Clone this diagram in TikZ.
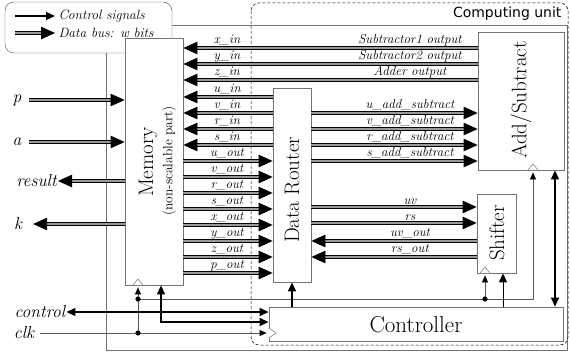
\documentclass[tikz,border=0pt]{standalone}
\usepackage{fontspec}
\newfontfamily\unitfont{DejaVu Sans}
\usetikzlibrary{arrows.meta,calc}

\tikzset{
  box/.style={draw=black!55, fill=white, line width=0.8pt, inner sep=0pt},
  bus/.style={draw=black, line width=0.8pt, double=black!40, double distance=1.6pt,
    -{Triangle[length=14pt,width=12.5pt]}},
  ctl/.style={line width=1.3pt, -{Triangle[length=9pt,width=8pt]}},
  ctlboth/.style={line width=1.3pt, {Triangle[length=9pt,width=8pt]}-{Triangle[length=9pt,width=8pt]}},
  clk/.style={line width=0.6pt, draw=black!65, -{Triangle[length=7pt,width=6pt,color=black]}},
  tick/.style={draw=black!55, fill=white, line width=0.5pt},
  lbl/.style={font=\fontsize{13}{14}\selectfont\itshape, inner sep=2pt, anchor=south},
  io/.style={font=\fontsize{17.5}{19}\selectfont\itshape, inner sep=1pt},
  title/.style={font=\fontsize{21}{24}\selectfont, rotate=90, inner sep=0pt},
}

\begin{document}
\begin{tikzpicture}[x=1pt,y=-1pt]
    \useasboundingbox (0,0) rectangle (570,353);

    % frames
    \draw[black!55, line width=0.8pt] (106,25) rectangle (567,350);
    \draw[black, dash pattern=on 3pt off 2pt, line width=0.5pt, rounded corners=8pt] (251,3) rectangle (568,345);
    \node[font=\unitfont\fontsize{14}{16}\selectfont, anchor=east] (unit) at (565,14) {Computing unit};

    % legend
    \draw[black!70, fill=white, rounded corners=9pt] (5,2) rectangle (172,53);
    \coordinate (lg1) at (15,16);
    \coordinate (lg2) at (15,33);
    \node[font=\fontsize{13.5}{15}\selectfont\itshape, anchor=west] (ctltxt) at (55,16) {Control signals};
    \node[font=\fontsize{13.5}{15}\selectfont\itshape, anchor=west] (bustxt) at (55,33) {Data bus: w bits};
    \draw[ctl] (lg1) -- (ctltxt.west);
    \draw[bus] (lg2) -- (bustxt.west);

    % blocks
    \node[box, minimum width=58pt, minimum height=247pt] (mem) at (154,161.5) {};
    \node[box, minimum width=38pt, minimum height=194pt] (router) at (292,185) {};
    \node[box, minimum width=86pt, minimum height=138pt] (addsub) at (521,101) {};
    \node[box, minimum width=39pt, minimum height=79pt] (shifter) at (496.5,233.5) {};
    \node[box, minimum width=294pt, minimum height=34pt] (ctrl) at (416,324) {};

    \node[title] (memtxt) at (148,162) {Memory};
    \node[title, font=\fontsize{13.5}{15}\selectfont] (memsub) at (169,161) {(non-scalable part)};
    \node[title] (routertxt) at (292,190) {Data Router};
    \node[title] (addsubtxt) at (521,100) {Add/Subtract};
    \node[title] (shiftertxt) at (497,233) {Shifter};
    \node[font=\fontsize{23}{26}\selectfont] (ctrltxt) at (416,325) {Controller};

    % outside signals
    \node[io] (p) at (17,100) {p};
    \node[io] (a) at (17,142) {a};
    \node[io, anchor=east] (res) at (58,181) {result};
    \node[io] (k) at (18,224) {k};
    \draw[bus, shorten <=6pt] (p) -- (p -| mem.west);
    \draw[bus, shorten <=6pt] (a) -- (a -| mem.west);
    \draw[bus] (res -| mem.west) -- (res.east);
    \draw[bus, shorten >=10pt] (k -| mem.west) -- (k);

    % results of the add/subtract unit
    \foreach \name/\src/\y in {x\_in/Subtractor1 output/48, y\_in/Subtractor2 output/64, z\_in/Adder output/80} {
        \draw[bus] (addsub.west |- 0,\y) -- (mem.east |- 0,\y);
        \node[lbl] at (227,\y) {\name};
        \node[lbl] at (410,\y) {\src};
    }
    % router to memory
    \foreach \name/\y in {u\_in/97, v\_in/113, r\_in/129, s\_in/145} {
        \draw[bus] (router.west |- 0,\y) -- (mem.east |- 0,\y);
        \node[lbl] at (227,\y) {\name};
    }
    % memory to router
    \foreach \name/\y in {u\_out/161, v\_out/177, r\_out/193, s\_out/209, x\_out/225, y\_out/241, z\_out/257, p\_out/273} {
        \draw[bus] (mem.east |- 0,\y) -- (router.west |- 0,\y);
        \node[lbl] at (227,\y) {\name};
    }
    % router to add/subtract
    \foreach \name/\y in {u/113, v/129, r/145, s/161} {
        \draw[bus] (router.east |- 0,\y) -- (addsub.west |- 0,\y);
        \node[lbl] at (410,\y) {\name\_add\_subtract};
    }
    % router and shifter
    \foreach \name/\y in {uv/207, rs/223} {
        \draw[bus] (router.east |- 0,\y) -- (shifter.west |- 0,\y);
        \node[lbl] at (410,\y) {\name};
    }
    \foreach \name/\y in {uv\_out/241, rs\_out/257} {
        \draw[bus] (shifter.west |- 0,\y) -- (router.east |- 0,\y);
        \node[lbl] at (410,\y) {\name};
    }

    % clock
    \node[io] (clk) at (24,333) {clk};
    \node[io] (control) at (40,312) {control};
    \coordinate (j1) at (138,333);
    \coordinate (j2) at (138,299);
    \coordinate (j3) at (485,299);
    \coordinate (j4) at (533,299);
    \draw[clk, shorten <=5pt, shorten >=2pt] (clk) -- (clk -| ctrl.west);
    \draw[clk, shorten >=2pt] (j1) -- (j1 |- mem.south);
    \draw[clk, shorten >=2pt] (j2) -- (j4) -- (j4 |- addsub.south);
    \draw[clk, shorten >=2pt] (j3) -- (j3 |- shifter.south);
    \fill (j1) circle (2.6pt) (j2) circle (2.6pt) (j3) circle (2.6pt);
    \draw[tick] (133,285) -- (138,279) -- (143,285);
    \draw[tick] (480,273) -- (485,267) -- (490,273);
    \draw[tick] (528,170) -- (533,164) -- (538,170);
    \draw[tick] (269,328) -- (276,333) -- (269,338);

    % control
    \coordinate (mc) at (161,322);
    \draw[ctlboth] (control.east) -- (control -| ctrl.west);
    \draw[ctlboth] (mem.south -| mc) -- (mc) -- (mc -| ctrl.west);
    \draw[ctl] (ctrl.north -| router.south) -- (router.south);
    \draw[ctl, line width=1pt] (ctrl.north -| 503,0) -- (shifter.south -| 503,0);
    \draw[ctlboth] (addsub.south -| 555,0) -- (ctrl.north -| 555,0);
\end{tikzpicture}
\end{document}
